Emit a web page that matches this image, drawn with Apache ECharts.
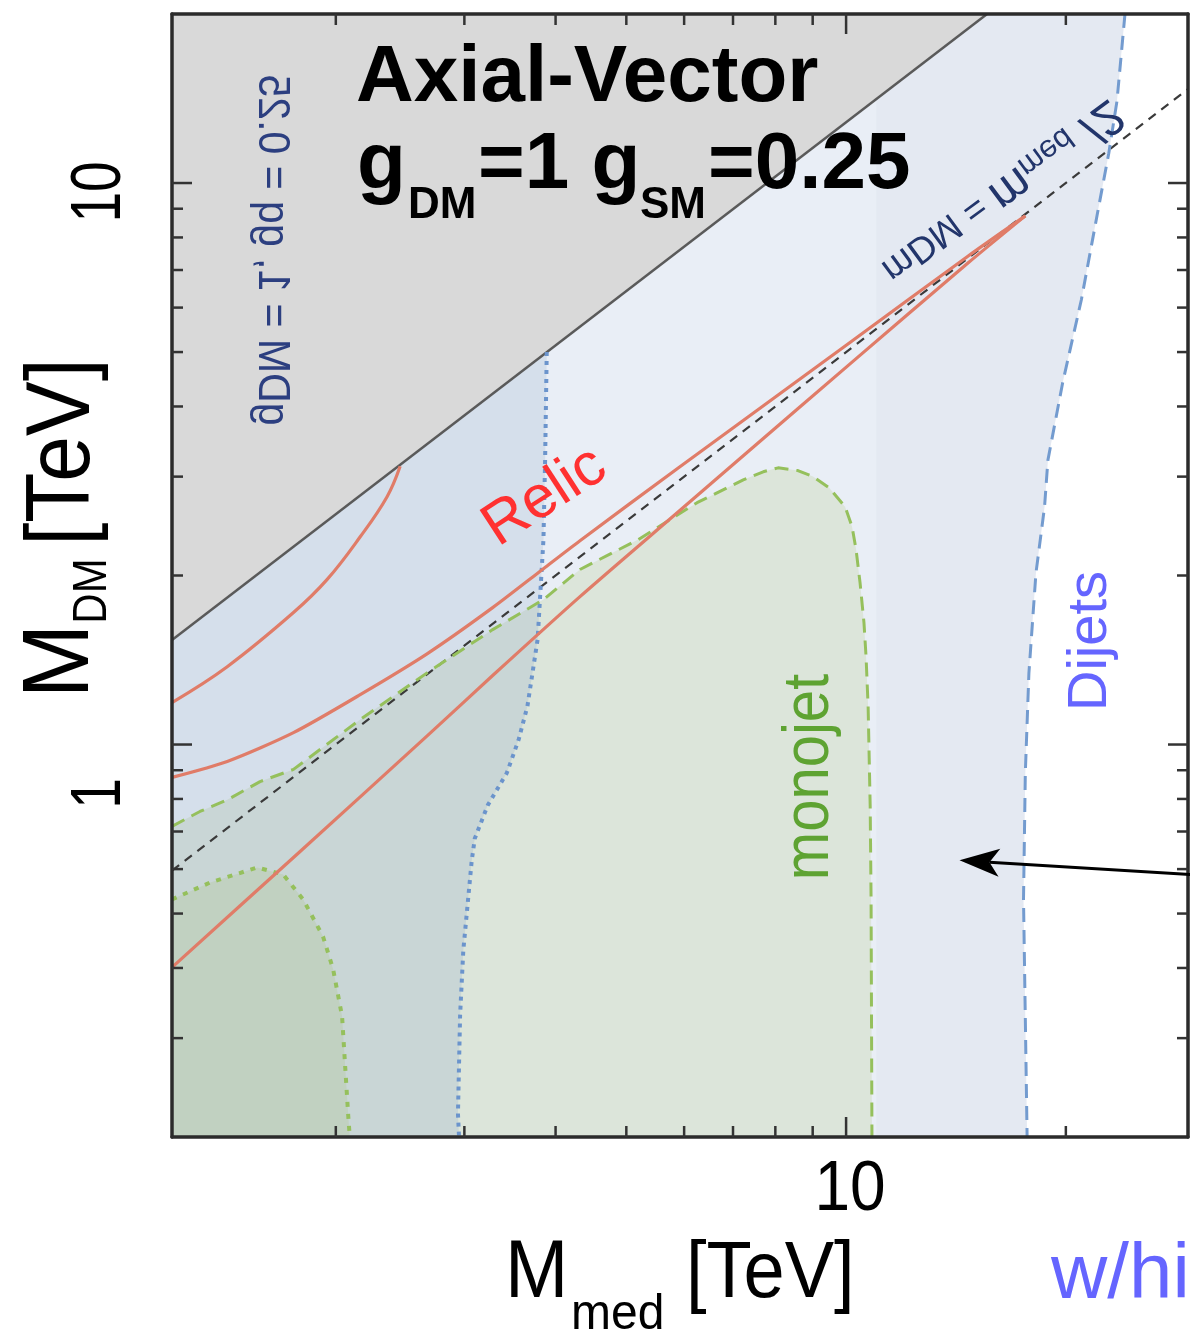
<!DOCTYPE html>
<html>
<head>
<meta charset="utf-8">
<script src="https://cdn.jsdelivr.net/npm/echarts@6.0.0/dist/echarts.min.js"></script>
<style>
  html, body { margin: 0; padding: 0; background: #ffffff; }
  #chart { width: 1190px; height: 1330px; }
</style>
</head>
<body>
<div id="chart"></div>
<script>
// Axis ranges (TeV)
const X_MIN = 1.193, X_MAX = 29.4;
const Y_MIN = 0.2, Y_MAX = 20;
// edge of the lighter shading band between the two dijet limits
const BAND_X = 11.0;

// M_DM where g_DM = 1, g_q = 0.25 stops being valid
const couplingLimit = [[1.193, 1.535], [15.6, 20]];
// M_DM = M_med / 2
const halfMassLine = [[1.193, 0.5965], [29.4, 14.7]];
// dijet exclusion (dashed)
const dijetDashed = [[24.1, 20], [23.5, 14.0], [22.9, 11.3], [22.1, 8.84], [21.0, 6.19], [19.8, 4.41],
  [18.9, 3.21], [18.7, 2.65], [18.2, 2.02], [17.8, 1.34], [17.6, 0.89], [17.5, 0.53], [17.7, 0.2]];
// dijet exclusion (dotted)
const dijetDotted = [[3.89, 5.0], [3.87, 3.2], [3.85, 2.32], [3.78, 1.54], [3.66, 1.17], [3.56, 1.02],
  [3.43, 0.89], [3.23, 0.78], [3.10, 0.68], [3.07, 0.62], [2.99, 0.43], [2.96, 0.33], [2.94, 0.22], [2.95, 0.2]];
// monojet exclusion (dashed)
const monojetDashed = [[1.193, 0.715], [1.303, 0.760], [1.42, 0.797], [1.575, 0.859], [1.75, 0.903],
  [2.16, 1.108], [2.67, 1.343], [3.28, 1.602], [3.85, 1.812], [4.32, 2.05], [5.19, 2.317], [6.25, 2.696],
  [7.23, 2.961], [7.70, 3.06], [8.07, 3.11], [8.59, 3.075], [9.01, 3.0], [9.48, 2.866], [9.97, 2.65],
  [10.19, 2.443], [10.32, 2.224], [10.45, 1.942], [10.58, 1.649], [10.65, 1.434], [10.72, 1.168],
  [10.79, 0.776], [10.82, 0.53], [10.85, 0.2]];
// monojet exclusion (dotted)
const monojetDotted = [[1.193, 0.53], [1.346, 0.568], [1.561, 0.604], [1.694, 0.587], [1.804, 0.53],
  [1.921, 0.455], [1.983, 0.398], [2.04, 0.328], [2.06, 0.267], [2.08, 0.218], [2.09, 0.2]];
// relic density contours
const relicArc = [[1.193, 1.188], [1.42, 1.376], [1.75, 1.718], [1.945, 1.966], [2.16, 2.344], [2.35, 2.76], [2.45, 3.13]];
const relicUpper = [[1.193, 0.874], [1.42, 0.933], [1.75, 1.05], [2.16, 1.227], [2.67, 1.452], [3.28, 1.753],
  [3.85, 2.057], [4.32, 2.307], [5.87, 3.098], [10.2, 5.236], [14.7, 7.415], [17.6, 8.74]];
const relicLower = [[1.193, 0.401], [1.787, 0.645], [2.67, 1.037], [3.28, 1.327], [4.32, 1.834], [5.87, 2.587],
  [7.23, 3.268], [10.2, 4.802], [14.7, 7.21], [17.6, 8.74]];
// pointer: tail, head
const arrowNote = [[32, 0.583], [14.3, 0.622]];

// ticks and tick labels
const xMajorTicks = [10];
const xMinorTicks = [2, 3, 4, 5, 6, 7, 8, 9, 20];
const yMajorTicks = [1, 10];
const yMinorTicks = [0.3, 0.4, 0.5, 0.6, 0.7, 0.8, 0.9, 2, 3, 4, 5, 6, 7, 8, 9];
const xTickLabels = [[10, '10']];
const yTickLabels = [[10, '10'], [1, '1']];

const FONT = '"Liberation Sans", Arial, Helvetica, sans-serif';
const yLabelShift = { '10': 9, '1': 49 };

// filled area; optional clip area restricts where it is painted
function region(name, pts, fill, z, clipPts) {
  return {
    name, type: 'custom', z, silent: true, data: pts,
    renderItem: (params, api) => {
      if (params.dataIndex !== 0) return null;
      const el = {
        type: 'polygon',
        shape: { points: pts.map(p => api.coord(p)) },
        style: { fill }
      };
      if (clipPts) {
        el.clipPath = { type: 'polygon', shape: { points: clipPts.map(p => api.coord(p)) } };
      }
      return el;
    }
  };
}

function curve(name, pts, color, width, dash, z, smooth) {
  return {
    name, type: 'line', data: pts, z, silent: true, symbol: 'none', showSymbol: false,
    smooth: smooth || false,
    lineStyle: { color, width, type: dash, cap: 'butt', join: 'round' }
  };
}

function txt(text, x, y, font, o) {
  o = o || {};
  const align = o.align || 'center';
  return {
    type: 'text', x, y, rotation: o.rot || 0, scaleX: o.sx || 1, scaleY: o.sy || 1, z: 100, silent: true,
    style: {
      text, font, fill: o.color || '#000',
      align, textAlign: align, verticalAlign: 'middle', textVerticalAlign: 'middle',
      rich: o.rich
    }
  };
}

const axisBase = {
  type: 'log', logBase: 10, z: 30,
  axisLine: { show: true, onZero: false, lineStyle: { color: '#2b2b2b', width: 3.5 } },
  axisTick: { show: false }, axisLabel: { show: false }, splitLine: { show: false }
};

const ticksSeries = {
  name: 'ticks', type: 'custom', z: 40, silent: true, clip: false, data: [[X_MIN, Y_MIN]],
  renderItem: (params, api) => {
    const kids = [];
    const seg = (a, b) => kids.push({
      type: 'line', shape: { x1: a[0], y1: a[1], x2: b[0], y2: b[1] },
      style: { stroke: '#333', lineWidth: 2.5 }
    });
    const xt = (v, len) => {
      const b = api.coord([v, Y_MIN]), t = api.coord([v, Y_MAX]);
      seg(b, [b[0], b[1] - len]); seg(t, [t[0], t[1] + len]);
    };
    const yt = (v, len) => {
      const l = api.coord([X_MIN, v]), r = api.coord([X_MAX, v]);
      seg(l, [l[0] + len, l[1]]); seg(r, [r[0] - len, r[1]]);
    };
    xMajorTicks.forEach(v => xt(v, 20));
    xMinorTicks.forEach(v => xt(v, 11));
    yMajorTicks.forEach(v => yt(v, 20));
    yMinorTicks.forEach(v => yt(v, 11));
    xTickLabels.forEach(([v, s]) => {
      const p = api.coord([v, Y_MIN]);
      kids.push({
        type: 'text', x: p[0] + 4, y: p[1] + 54, scaleY: 1.1,
        style: { text: s, font: '64px ' + FONT, fill: '#000', align: 'center', textAlign: 'center', verticalAlign: 'middle', textVerticalAlign: 'middle' }
      });
    });
    yTickLabels.forEach(([v, s]) => {
      const p = api.coord([X_MIN, v]);
      kids.push({
        type: 'text', x: p[0] - 71, y: p[1] + yLabelShift[s], rotation: Math.PI / 2, scaleY: 1.27,
        style: { text: s, font: '55px ' + FONT, fill: '#000', align: 'center', textAlign: 'center', verticalAlign: 'middle', textVerticalAlign: 'middle' }
      });
    });
    return { type: 'group', children: kids };
  }
};

const arrowSeries = {
  name: 'pointer', type: 'custom', z: 45, silent: true, clip: false, data: arrowNote,
  renderItem: (params, api) => {
    if (params.dataIndex !== 0) return null;
    const a = api.coord(arrowNote[0]), b = api.coord(arrowNote[1]);
    const ang = Math.atan2(b[1] - a[1], b[0] - a[0]);
    const c = Math.cos(ang), s = Math.sin(ang);
    const L = 40, W = 14, N = 30;
    const back = [b[0] - L * c, b[1] - L * s];
    const notch = [b[0] - N * c, b[1] - N * s];
    return {
      type: 'group', children: [
        { type: 'line', shape: { x1: a[0], y1: a[1], x2: notch[0], y2: notch[1] }, style: { stroke: '#000', lineWidth: 3 } },
        { type: 'polygon', shape: { points: [b, [back[0] - s * W, back[1] + c * W], notch, [back[0] + s * W, back[1] - c * W]] }, style: { fill: '#000' } }
      ]
    };
  }
};

const dijetRegion = [[X_MIN, Y_MIN], [X_MIN, Y_MAX]].concat(dijetDashed);
const bandRegion = dijetDotted.concat([[BAND_X, Y_MIN], [BAND_X, Y_MAX], [dijetDotted[0][0], Y_MAX]]);
const dottedRegion = [[X_MIN, Y_MIN], [X_MIN, Y_MAX], [dijetDotted[0][0], Y_MAX]].concat(dijetDotted);
const grayRegion = [[X_MIN, Y_MAX]].concat(couplingLimit);
const monojetRegion = [[X_MIN, Y_MIN]].concat(monojetDashed);
const monojetDottedRegion = [[X_MIN, Y_MIN]].concat(monojetDotted);

const chart = echarts.init(document.getElementById('chart'), null, { renderer: 'canvas' });
chart.setOption({
  animation: false,
  backgroundColor: '#ffffff',
  textStyle: { fontFamily: FONT },
  grid: { left: 172, top: 14, width: 1016, height: 1123 },
  xAxis: [
    Object.assign({}, axisBase, { position: 'bottom', min: X_MIN, max: X_MAX }),
    Object.assign({}, axisBase, { position: 'top', min: X_MIN, max: X_MAX })
  ],
  yAxis: [
    Object.assign({}, axisBase, { position: 'left', min: Y_MIN, max: Y_MAX }),
    Object.assign({}, axisBase, { position: 'right', min: Y_MIN, max: Y_MAX })
  ],
  series: [
    region('Dijets', dijetRegion, '#e4e9f2', 1),
    region('band', bandRegion, '#e9eef6', 2),
    region('Dijets dotted', dottedRegion, '#d5dfeb', 3),
    region('coupling', grayRegion, '#d9d9d9', 4),
    region('monojet', monojetRegion, '#dce5da', 5),
    region('monojet x dotted dijets', monojetRegion, '#c9d6d6', 6, dottedRegion),
    region('monojet dotted', monojetDottedRegion, '#c1d1c1', 7),
    curve('coupling limit', couplingLimit, '#5a5a5a', 2.5, 'solid', 10),
    curve('M_DM = M_med/2', halfMassLine, '#3a3a3a', 2.2, [9, 7], 11),
    curve('Dijets limit', dijetDashed, '#739bcf', 3, [14, 8], 12),
    curve('Dijets dotted limit', dijetDotted, '#6b94cc', 4, [4, 5], 12),
    curve('monojet limit', monojetDashed, '#95c05c', 3, [14, 8], 13),
    curve('monojet dotted limit', monojetDotted, '#95c05c', 4, [5, 7], 13),
    curve('relic arc', relicArc, '#e07c68', 3.2, 'solid', 14, 0.4),
    curve('relic upper', relicUpper, '#e07c68', 3.2, 'solid', 14, 0.25),
    curve('relic lower', relicLower, '#e07c68', 3.2, 'solid', 14, 0.25),
    arrowSeries,
    ticksSeries
  ],
  graphic: [
    // heading
    txt('Axial-Vector', 356, 79, 'bold 80px ' + FONT, { align: 'left' }),
    txt('g', 357, 166, 'bold 80px ' + FONT, { align: 'left' }),
    txt('DM', 408, 206, 'bold 44px ' + FONT, { align: 'left' }),
    txt('=1 g', 478, 166, 'bold 80px ' + FONT, { align: 'left' }),
    txt('SM', 640, 206, 'bold 44px ' + FONT, { align: 'left' }),
    txt('=0.25', 708, 166, 'bold 80px ' + FONT, { align: 'left' }),
    // y axis title
    txt('M', 62, 661, '90px ' + FONT, { rot: Math.PI / 2, sy: 1.05 }),
    txt('DM', 93, 591, '42px ' + FONT, { rot: Math.PI / 2, sy: 1.15 }),
    txt('[TeV]', 64, 452, '82px ' + FONT, { rot: Math.PI / 2, sy: 1.1 }),
    // x axis title
    txt('M', 505, 1275, '76px ' + FONT, { align: 'left', sy: 1.07 }),
    txt('med', 571, 1315, '48px ' + FONT, { align: 'left', sy: 1.05 }),
    txt('[TeV]', 686, 1275, '74px ' + FONT, { align: 'left', sy: 1.07 }),
    txt('w/hi', 1051, 1276, '78px ' + FONT, { align: 'left', color: '#6565ff' }),
    // region labels
    txt('Relic', 545, 497, '60px ' + FONT, { rot: 33 * Math.PI / 180, color: '#ff3131' }),
    txt('monojet', 810, 777, '58px ' + FONT, { rot: Math.PI / 2, sy: 1.12, color: '#5ea332' }),
    txt('Dijets', 1091, 641, '56px ' + FONT, { rot: Math.PI / 2, color: '#6565ff' }),
    // mirrored line captions
    txt('gDM = 1, gq = 0.25', 271, 250, '41px ' + FONT, { rot: Math.PI / 2, sy: -1.1, color: '#2c3f80' }),
    txt('{a|m}{a|DM}{a| = }{b|m}{c|med}{b| /2}', 1003, 193, '38px ' + FONT, {
      rot: 36.5 * Math.PI / 180, sy: -1, color: '#22356b',
      rich: {
        a: { fontSize: 37, fontFamily: FONT, fill: '#22356b', color: '#22356b', verticalAlign: 'bottom' },
        b: { fontSize: 48, fontFamily: FONT, fill: '#22356b', color: '#22356b', verticalAlign: 'bottom' },
        c: { fontSize: 31, fontFamily: FONT, fill: '#22356b', color: '#22356b', verticalAlign: 'bottom' }
      }
    })
  ]
});
</script>
</body>
</html>
